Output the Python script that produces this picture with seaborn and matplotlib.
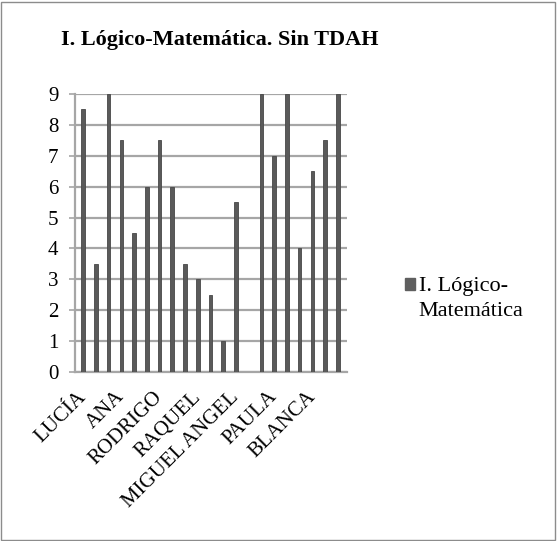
import numpy as np
import pandas as pd
import matplotlib
matplotlib.use("Agg")
import matplotlib.pyplot as plt
import seaborn as sns
from matplotlib.patches import Rectangle, Patch

sns.set_style("white")
plt.rcParams['font.family'] = ['Liberation Serif', 'DejaVu Serif']
plt.rcParams['text.color'] = 'black'
plt.rcParams['xtick.color'] = 'black'
plt.rcParams['ytick.color'] = 'black'

# Data
tick_labels = ["LUCÍA", "", "", "ANA", "", "", "RODRIGO", "", "", "RAQUEL", "", "",
               "MIGUEL ANGEL", "", "", "PAULA", "", "", "BLANCA", "", ""]
values = [8.5, 3.5, 9, 7.5, 4.5, 6, 7.5, 6, 3.5, 3, 2.5, 1, 5.5, 0, 9, 7, 9, 4, 6.5, 7.5, 9]
legend_lines = ["I. Lógico-", "Matemática"]
title = "I. Lógico-Matemática. Sin TDAH"

df = pd.DataFrame({"pos": np.arange(len(values)), "valor": values})

fig = plt.figure(figsize=(5.57, 5.41), dpi=100)
ax = fig.add_axes([0.1347, 0.3124, 0.488, 0.5138])

sns.barplot(data=df, x="pos", y="valor", ax=ax, color="#5a5a5a",
            width=0.28, saturation=1, edgecolor="#474747", linewidth=0.6, zorder=3)

ax.set_ylim(0, 9)
ax.set_xlim(-0.63, 20.7)
ax.set_yticks(range(0, 10))
ax.set_yticklabels([str(i) for i in range(0, 10)], fontsize=15)
ax.yaxis.grid(True, color="#a6a6a6", linewidth=1.6, zorder=0)
ax.xaxis.grid(False)

ax.set_xticks(np.arange(len(values)))
ax.set_xticklabels(tick_labels, rotation=45, ha="right", va="center",
                   rotation_mode="anchor", fontsize=15)
ax.tick_params(axis="x", length=0, pad=16)
ax.set_xticks(np.arange(len(values) + 1) - 0.5, minor=True)
ax.tick_params(axis="x", which="minor", length=4, color="#a6a6a6", width=1.2)
ax.tick_params(axis="y", length=4, color="#a6a6a6", labelcolor="black", width=1.2, left=True, pad=8)
ax.tick_params(axis="x", labelcolor="black")
ax.set_xlabel("")
ax.set_ylabel("")

for s in ["top", "right"]:
    ax.spines[s].set_visible(False)
for s in ["left", "bottom"]:
    ax.spines[s].set_color("#a6a6a6")
    ax.spines[s].set_linewidth(1.6)

fig.text(220 / 557, 1 - 40 / 541, title, ha="center", va="center",
         fontsize=16, fontweight="bold", color="black")

handle = Patch(facecolor="#5f5f5f", edgecolor="#5f5f5f")
leg = fig.legend([handle], [legend_lines[0]], loc="center left",
                 bbox_to_anchor=(405 / 557, 1 - 287 / 541), frameon=False, fontsize=16,
                 borderpad=0, borderaxespad=0,
                 handlelength=0.45, handleheight=0.45, handletextpad=0.2,
                 labelcolor="black")
fig.text(418 / 557, 1 - 312 / 541, legend_lines[1], ha="left", va="center",
         fontsize=16, color="black")

fig.patches.append(Rectangle((0.002, 0.002), 0.995, 0.995, transform=fig.transFigure,
                             fill=False, edgecolor="#8c8c8c", linewidth=1))

fig.savefig("out.png", dpi=100)
